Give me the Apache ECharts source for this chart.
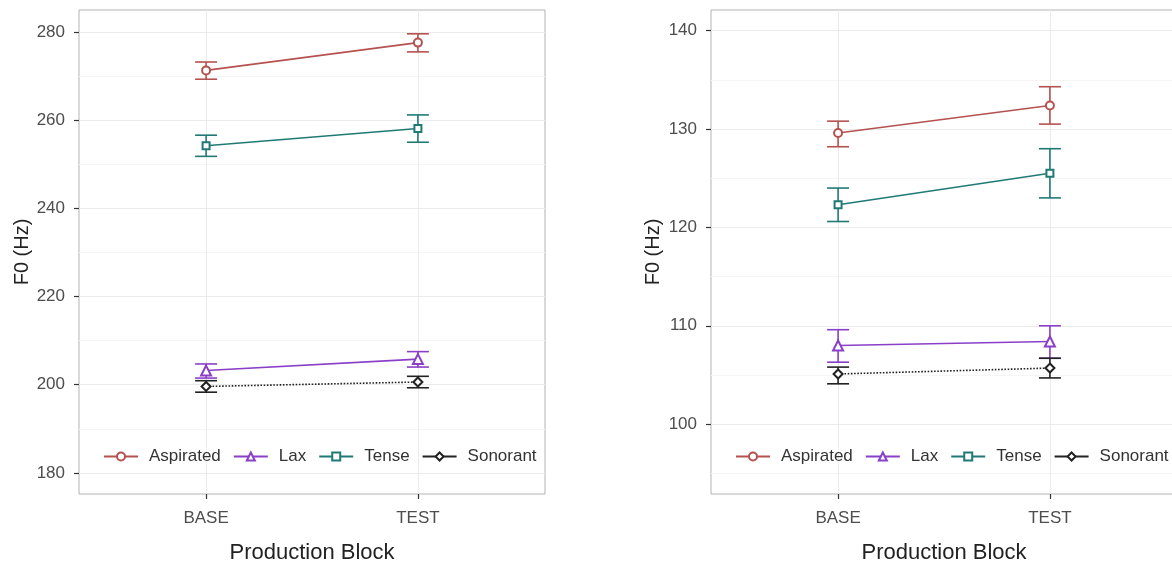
<!DOCTYPE html>
<html><head><meta charset="utf-8">
<script src="https://cdn.jsdelivr.net/npm/echarts@6/dist/echarts.min.js"></script>
<style>html,body{margin:0;padding:0;background:#fff}#c{width:1172px;height:569px}</style>
</head><body><div id="c"></div>
<script>
const categories = ['BASE', 'TEST'];
const groups = ['Aspirated', 'Lax', 'Tense', 'Sonorant'];

// Left panel (F0 Hz)
const leftTicks = [180, 200, 220, 240, 260, 280];
const leftMinor = [190, 210, 230, 250, 270];
const aspL = [271.3, 277.6], aspL_lo = [269.3, 275.5], aspL_hi = [273.2, 279.6];
const laxL = [203.2, 205.8], laxL_lo = [201.5, 204.0], laxL_hi = [204.7, 207.5];
const tenL = [254.2, 258.1], tenL_lo = [251.8, 255.0], tenL_hi = [256.6, 261.2];
const sonL = [199.6, 200.6], sonL_lo = [198.3, 199.3], sonL_hi = [200.9, 201.9];

// Right panel (F0 Hz)
const rightTicks = [100, 110, 120, 130, 140];
const rightMinor = [95, 105, 115, 125, 135];
const aspR = [129.6, 132.4], aspR_lo = [128.2, 130.5], aspR_hi = [130.8, 134.3];
const laxR = [108.0, 108.4], laxR_lo = [106.3, 106.7], laxR_hi = [109.6, 110.0];
const tenR = [122.3, 125.5], tenR_lo = [120.6, 123.0], tenR_hi = [124.0, 128.0];
const sonR = [105.1, 105.7], sonR_lo = [104.1, 104.7], sonR_hi = [105.8, 106.7];

const colors = { Aspirated: '#b5514f', Lax: '#8a3fc8', Tense: '#1f7a76', Sonorant: '#222222' };
const symbols = { Aspirated: 'emptyCircle', Lax: 'emptyTriangle', Tense: 'emptyRect', Sonorant: 'emptyDiamond' };
const symSizes = { Aspirated: 8, Lax: 10, Tense: 7, Sonorant: 9 };
const FONT = 'Liberation Sans, Arial, Helvetica, sans-serif';

function lineSeries(name, means, gi) {
  return {
    type: 'line', name: name, xAxisIndex: gi, yAxisIndex: gi * 2,
    data: means.map((v, i) => [i + 1, v]),
    symbol: symbols[name], symbolSize: symSizes[name],
    itemStyle: { color: colors[name], borderWidth: 1.1 },
    lineStyle: { color: colors[name], width: 1.6, type: name === 'Sonorant' ? 'dotted' : 'solid' },
    z: 4, silent: true, animation: false
  };
}
function errSeries(name, lo, hi, gi) {
  const col = colors[name];
  return {
    type: 'custom', name: name + ' SE', xAxisIndex: gi, yAxisIndex: gi * 2,
    data: lo.map((v, i) => [i + 1, v, hi[i]]),
    encode: { x: 0, y: [1, 2] },
    z: 3, silent: true, animation: false,
    renderItem: function (params, api) {
      const x = api.value(0);
      const pLo = api.coord([x, api.value(1)]);
      const pHi = api.coord([x, api.value(2)]);
      const hw = 11;
      const style = { stroke: col, lineWidth: 1.6, fill: null };
      return { type: 'group', children: [
        { type: 'line', shape: { x1: pLo[0], y1: pLo[1], x2: pHi[0], y2: pHi[1] }, style: style },
        { type: 'line', shape: { x1: pLo[0] - hw, y1: pLo[1], x2: pLo[0] + hw, y2: pLo[1] }, style: style },
        { type: 'line', shape: { x1: pHi[0] - hw, y1: pHi[1], x2: pHi[0] + hw, y2: pHi[1] }, style: style }
      ]};
    }
  };
}

function xAxis(gi) {
  return {
    type: 'value', gridIndex: gi, min: 0.4, max: 2.6,
    name: 'Production Block', nameLocation: 'middle', nameGap: 48,
    nameTextStyle: { fontFamily: FONT, fontSize: 22, color: '#222' },
    axisLine: { show: false },
    axisTick: { show: true, length: 5, customValues: [1, 2], lineStyle: { color: '#333', width: 1.2 } },
    axisLabel: { customValues: [1, 2], margin: 16, fontFamily: FONT, fontSize: 17, color: '#4d4d4d',
      formatter: v => categories[Math.round(v) - 1] },
    splitLine: { show: true, lineStyle: { color: '#ebebeb', width: 1 } }
  };
}
function yAxes(gi, min, max, ticks, minor, nameGap) {
  return [{
    type: 'value', gridIndex: gi, min: min, max: max,
    name: 'F0 (Hz)', nameLocation: 'middle', nameGap: nameGap,
    nameTextStyle: { fontFamily: FONT, fontSize: 20, color: '#222' },
    axisLine: { show: false },
    axisTick: { show: true, length: 5, customValues: ticks, lineStyle: { color: '#333', width: 1.2 } },
    axisLabel: { customValues: ticks, margin: 14, fontFamily: FONT, fontSize: 17, color: '#4d4d4d' },
    splitLine: { show: true, lineStyle: { color: '#ebebeb', width: 1 } }
  }, {
    type: 'value', gridIndex: gi, min: min, max: max, position: 'left',
    axisLine: { show: false }, axisLabel: { show: false },
    axisTick: { show: false, customValues: minor },
    splitLine: { show: true, lineStyle: { color: '#f5f5f5', width: 1 } }
  }];
}
function legend(left) {
  return {
    left: left, top: 448, padding: 0, itemWidth: 34, itemHeight: 10, itemGap: 12,
    textStyle: { fontFamily: FONT, fontSize: 17, color: '#333', padding: [0, 0, 0, 6] },
    data: groups.map(g => ({ name: g, lineStyle: { type: 'solid' } })),
    selectedMode: false
  };
}

const series = [];
[[aspL, aspL_lo, aspL_hi], [laxL, laxL_lo, laxL_hi], [tenL, tenL_lo, tenL_hi], [sonL, sonL_lo, sonL_hi]].forEach((d, k) => {
  series.push(errSeries(groups[k], d[1], d[2], 0));
  series.push(lineSeries(groups[k], d[0], 0));
});
[[aspR, aspR_lo, aspR_hi], [laxR, laxR_lo, laxR_hi], [tenR, tenR_lo, tenR_hi], [sonR, sonR_lo, sonR_hi]].forEach((d, k) => {
  series.push(errSeries(groups[k], d[1], d[2], 1));
  series.push(lineSeries(groups[k], d[0], 1));
});

const chart = echarts.init(document.getElementById('c'));
chart.setOption({
  backgroundColor: '#fff',
  animation: false,
  grid: [
    { left: 79, top: 10, width: 466, height: 484, show: true, borderColor: '#b3b3b3', borderWidth: 1, backgroundColor: 'transparent', containLabel: false, outerBoundsMode: 'none' },
    { left: 711, top: 10, width: 466, height: 484, show: true, borderColor: '#b3b3b3', borderWidth: 1, backgroundColor: 'transparent', containLabel: false, outerBoundsMode: 'none' }
  ],
  legend: [legend(103), legend(735)],
  xAxis: [xAxis(0), xAxis(1)],
  yAxis: yAxes(0, 175.2, 285, leftTicks, leftMinor, 46).concat(yAxes(1, 92.9, 142.1, rightTicks, rightMinor, 48)),
  series: series
});
</script>
</body></html>
